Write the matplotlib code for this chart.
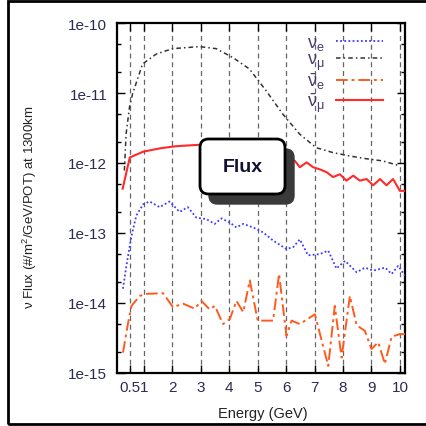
import matplotlib.pyplot as plt
import numpy as np
from matplotlib.patches import FancyBboxPatch, Rectangle
from matplotlib.ticker import LogLocator, FixedLocator

plt.rcParams['font.family'] = ['Liberation Sans', 'DejaVu Sans']
plt.rcParams['mathtext.fontset'] = 'custom'
plt.rcParams['mathtext.rm'] = 'Liberation Sans'
plt.rcParams['mathtext.it'] = 'Liberation Sans'
plt.rcParams['mathtext.bf'] = 'Liberation Sans:bold'

# nu_mu
e_numu = [0.31, 0.37, 0.49, 0.6, 0.95, 1.43, 2.0, 2.95, 3.54, 4.13, 4.71, 5.3,
          5.88, 6.47, 7.05, 7.64, 8.23, 8.82, 9.4, 10.0]
f_numu = [7.8e-13, 2.6e-12, 6.3e-12, 9.8e-12, 2.6e-11, 3.6e-11, 4.3e-11, 4.6e-11,
          4.3e-11, 3.2e-11, 2.2e-11, 1.07e-11, 5.0e-12, 2.6e-12, 1.66e-12, 1.41e-12,
          1.26e-12, 1.15e-12, 1.07e-12, 9.1e-13]

# anti nu_mu
e_anumu = [0.25, 0.5, 0.97, 1.56, 2.14, 2.94, 3.6, 4.3, 5.0, 5.7, 6.31, 6.48, 6.72,
           6.95, 7.19, 7.42, 7.65, 7.89, 8.12, 8.36, 8.59, 8.83, 9.06, 9.3, 9.53,
           9.76, 10.0, 10.18]
f_anumu = [4.3e-13, 1.2e-12, 1.45e-12, 1.62e-12, 1.74e-12, 1.82e-12, 1.78e-12,
           1.58e-12, 1.38e-12, 1.2e-12, 1.07e-12, 8.7e-13, 1.02e-12, 8.7e-13, 8.1e-13,
           7.4e-13, 6.3e-13, 6.9e-13, 5.6e-13, 6.6e-13, 5.6e-13, 5.9e-13, 4.8e-13,
           5.9e-13, 4.8e-13, 5.9e-13, 4.0e-13, 4.0e-13]

# nu_e
e_nue = [0.26, 0.38, 0.56, 0.73, 0.97, 1.2, 1.55, 1.9, 2.25, 2.54, 2.84, 3.19, 3.49,
         3.72, 4.02, 4.25, 4.49, 4.84, 5.19, 5.54, 6.01, 6.25, 6.48, 6.77, 7.19, 7.48,
         7.77, 8.07, 8.48, 8.77, 9.06, 9.48, 9.71, 9.94, 10.18]
f_nue = [1.6e-14, 3.4e-14, 9.1e-14, 1.78e-13, 2.57e-13, 2.82e-13, 2.34e-13, 2.82e-13,
         2.0e-13, 2.34e-13, 1.66e-13, 1.58e-13, 1.35e-13, 1.62e-13, 1.41e-13, 1.2e-13,
         1.35e-13, 1.2e-13, 1.02e-13, 7.8e-14, 5.9e-14, 6.3e-14, 8.1e-14, 4.8e-14,
         5.0e-14, 5.6e-14, 3.1e-14, 4.0e-14, 2.75e-14, 3.2e-14, 2.9e-14, 3.2e-14,
         2.6e-14, 3.4e-14, 2.45e-14]

# anti nu_e
e_anue = [0.26, 0.44, 0.56, 0.85, 1.08, 1.67, 2.02, 2.37, 2.78, 3.02, 3.31, 3.49, 3.78,
          4.02, 4.25, 4.49, 4.72, 5.0, 5.54, 5.75, 6.01, 6.19, 6.48, 7.01, 7.48, 7.71,
          7.95, 8.24, 8.48, 8.77, 9.0, 9.24, 9.47, 9.71, 10.0, 10.18]
f_anue = [1.95e-15, 5.2e-15, 9.1e-15, 1.26e-14, 1.35e-14, 1.38e-14, 8.7e-15, 9.8e-15,
          8.3e-15, 1.07e-14, 8.1e-15, 9.1e-15, 5.0e-15, 5.9e-15, 1.07e-14, 7.4e-15,
          2.1e-14, 5.6e-15, 5.6e-15, 2.6e-14, 3.4e-15, 5.6e-15, 5.0e-15, 6.9e-15,
          1.26e-15, 9.1e-15, 1.66e-15, 1.26e-14, 4.8e-15, 4.0e-15, 2.2e-15, 2.75e-15,
          1.35e-15, 3.3e-15, 3.6e-15, 3.6e-15]

xticks = [0.5, 1, 2, 3, 4, 5, 6, 7, 8, 9, 10]
xticklabels = ['0.5', '1', '2', '3', '4', '5', '6', '7', '8', '9', '10']
yticks = [1e-15, 1e-14, 1e-13, 1e-12, 1e-11, 1e-10]
yticklabels = ['1e-15', '1e-14', '1e-13', '1e-12', '1e-11', '1e-10']

txt = '#2b2b55'

fig = plt.figure(figsize=(4.27, 4.27), dpi=100)
ax = fig.add_axes([117 / 427, 1 - 374 / 427, 288 / 427, 350 / 427])

for x in xticks:
    ax.axvline(x, color='#666666', lw=0.9, ls=(0, (4, 3)), zorder=1)

ax.plot(e_nue, f_nue, color='#3b3bff', lw=1.3, ls=(0, (1, 1.3)), label=r'$\nu_e$', zorder=3)
ax.plot(e_numu, f_numu, color='#333333', lw=1.1, ls=(0, (3, 2, 1, 2)), label=r'$\nu_\mu$', zorder=3)
ax.plot(e_anue, f_anue, color='#ff5a1e', lw=1.4, ls=(0, (6, 2, 1.5, 2)), label=r'$\bar{\nu}_e$', zorder=3)
ax.plot(e_anumu, f_anumu, color='#ff2a2a', lw=1.5, label=r'$\bar{\nu}_\mu$', zorder=3)

ax.set_yscale('log')
ax.set_xlim(0.05, 10.18)
ax.set_ylim(1e-15, 1e-10)
ax.xaxis.set_major_locator(FixedLocator(xticks))
ax.set_xticklabels(xticklabels)
ax.yaxis.set_major_locator(FixedLocator(yticks))
ax.set_yticklabels(yticklabels)
ax.yaxis.set_minor_locator(LogLocator(base=10, subs=[2, 5]))
ax.yaxis.set_minor_formatter(plt.NullFormatter())
ax.tick_params(which='both', direction='in', top=True, right=True, colors='black',
               labelcolor=txt, labelsize=11, width=1)
ax.tick_params(axis='y', which='major', length=6, pad=7)
ax.tick_params(axis='x', which='major', length=6, pad=5)
ax.tick_params(which='minor', length=3)
for s in ax.spines.values():
    s.set_linewidth(1.6)

ax.set_xlabel('Energy (GeV)', fontsize=10.5, color='#222222')
ax.xaxis.set_label_coords(0.507, -0.095)
ax.set_ylabel(r'$\nu$ Flux (#/m$^2$/GeV/POT) at 1300km', fontsize=9.5, color='#222222')
ax.yaxis.set_label_coords(-0.27, 0.477)

leg = ax.legend(loc='upper right', bbox_to_anchor=(0.96, 1.0), frameon=False,
                markerfirst=False, fontsize=13, handlelength=2.6, handletextpad=0.6,
                labelspacing=-0.05, borderpad=0.1)
for t in leg.get_texts():
    t.set_color('#4a3a6a')

# Flux box with shadow
bx, by, bw, bh = 200 / 427, 1 - 195 / 427, 85 / 427, 55 / 427
shadow = FancyBboxPatch((bx + 9 / 427, by - 10 / 427), bw, bh,
                        boxstyle='round,pad=0,rounding_size=0.02',
                        transform=fig.transFigure, facecolor='#3a3a3a',
                        edgecolor='#3a3a3a', lw=1, zorder=5)
box = FancyBboxPatch((bx, by), bw, bh, boxstyle='round,pad=0,rounding_size=0.02',
                     transform=fig.transFigure, facecolor='white',
                     edgecolor='black', lw=2, zorder=6)
fig.add_artist(shadow)
fig.add_artist(box)
fig.text(bx + bw / 2, by + bh / 2, 'Flux', ha='center', va='center',
         fontsize=14, fontweight='bold', color='#111133', zorder=7)

# outer frame
fig.add_artist(Rectangle((8 / 427, 2 / 427), 1.2, 423 / 427, transform=fig.transFigure,
                         fill=False, edgecolor='black', lw=2))

fig.savefig('out.png', dpi=100)
